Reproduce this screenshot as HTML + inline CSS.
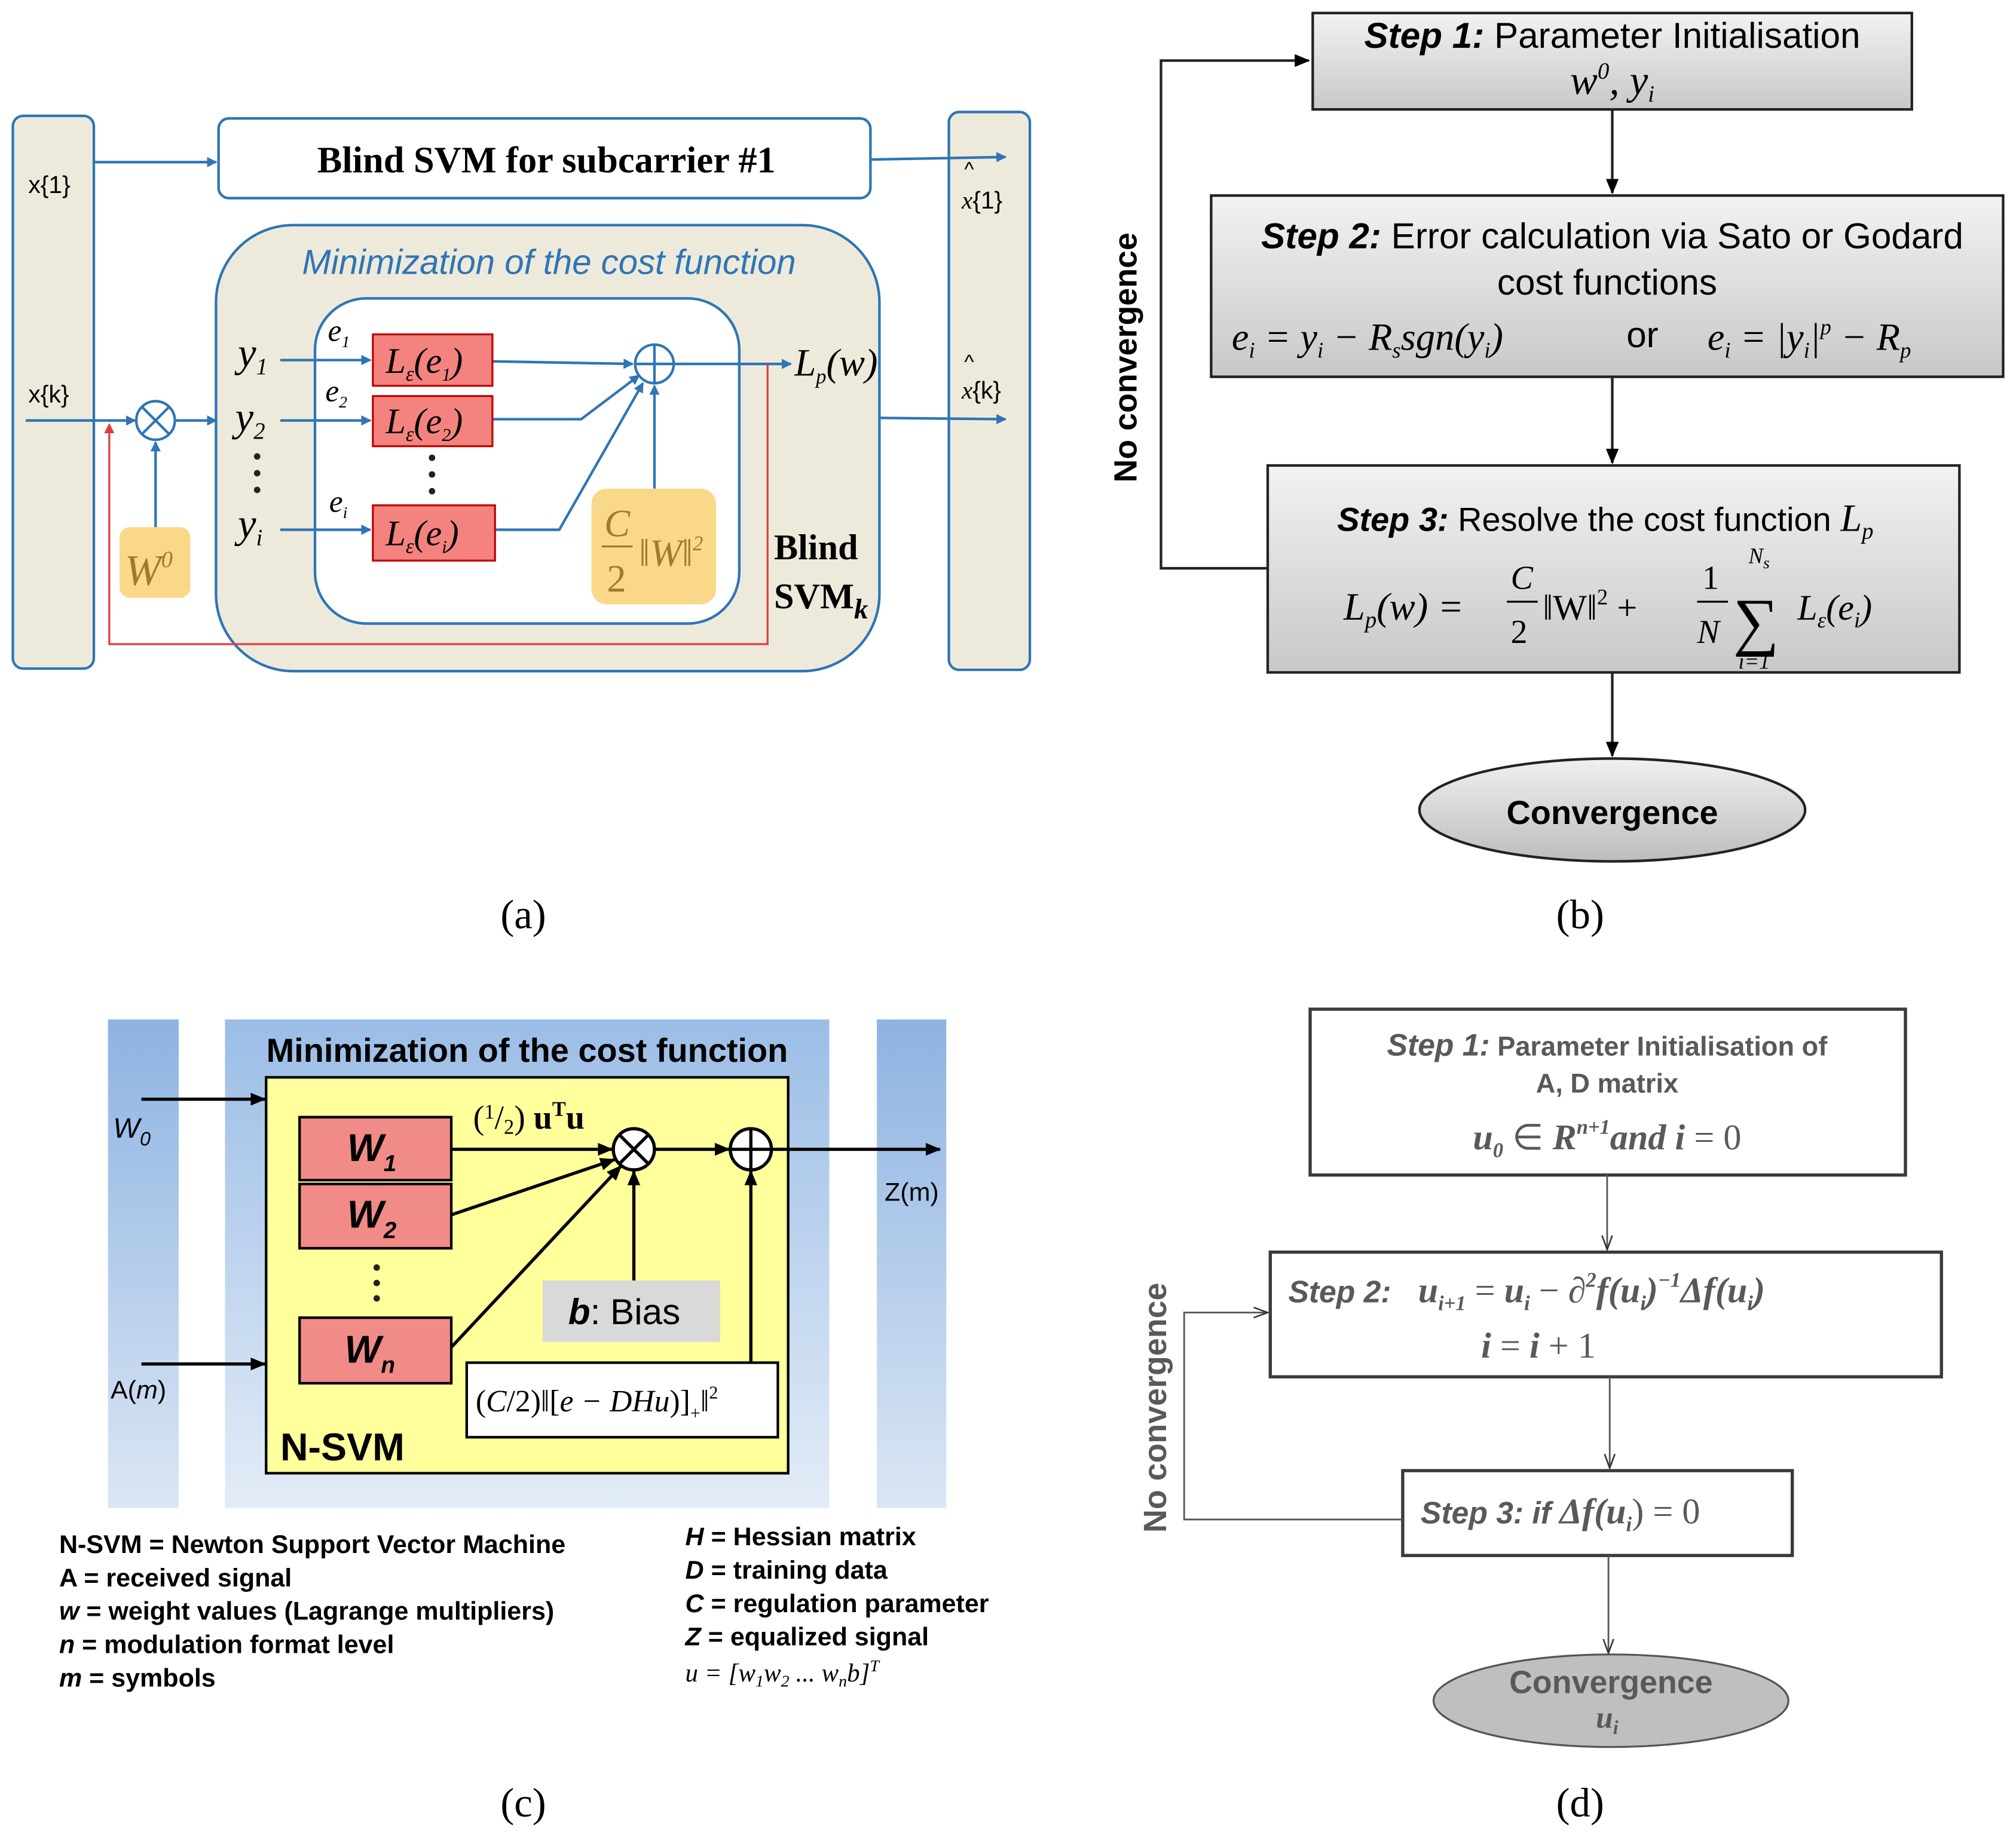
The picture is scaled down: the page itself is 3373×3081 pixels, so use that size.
<!DOCTYPE html>
<html><head><meta charset="utf-8"><style>
html,body{margin:0;padding:0;background:#fff;}
svg{display:block;}
text{font-family:"Liberation Sans",sans-serif;}
.serif,.serif text,.serif tspan{font-family:"Liberation Serif",serif;}
</style></head><body>
<svg width="3373" height="3081" viewBox="0 0 1568 1432" xmlns="http://www.w3.org/2000/svg">
<defs>
<marker id="ab" markerWidth="8" markerHeight="8" refX="7" refY="4" orient="auto" markerUnits="userSpaceOnUse"><path d="M0,0 L8,4 L0,8 z" fill="#2e75b6"/></marker>
<marker id="ar" markerWidth="8" markerHeight="8" refX="7" refY="4" orient="auto" markerUnits="userSpaceOnUse"><path d="M0,0 L8,4 L0,8 z" fill="#e03c3c"/></marker>
<marker id="ak" markerWidth="12" markerHeight="10" refX="11" refY="5" orient="auto" markerUnits="userSpaceOnUse"><path d="M0,0 L12,5 L0,10 z" fill="#000"/></marker>
<marker id="ag" markerWidth="12" markerHeight="10" refX="11" refY="5" orient="auto" markerUnits="userSpaceOnUse"><path d="M0,1 L11,5 L0,9" fill="none" stroke="#333" stroke-width="1.2"/></marker>
<linearGradient id="gb" x1="0" y1="0" x2="0" y2="1"><stop offset="0" stop-color="#f2f2f2"/><stop offset="1" stop-color="#c8c8c8"/></linearGradient>
<linearGradient id="ge" x1="0" y1="0" x2="0" y2="1"><stop offset="0" stop-color="#f0f0f0"/><stop offset="1" stop-color="#bdbdbd"/></linearGradient>
<linearGradient id="bl" x1="0" y1="0" x2="0" y2="1"><stop offset="0" stop-color="#8db3e2"/><stop offset="1" stop-color="#dbe6f4"/></linearGradient>
<linearGradient id="bl2" x1="0" y1="0" x2="0" y2="1"><stop offset="0" stop-color="#9bbde6"/><stop offset="1" stop-color="#e3ecf7"/></linearGradient>
</defs>

<!-- ===== (a) ===== -->
<g stroke="#2e75b6" stroke-width="2">
<rect x="10" y="90" width="63" height="430" rx="8" fill="#eeeadb"/>
<rect x="738" y="87" width="63" height="434" rx="8" fill="#eeeadb"/>
<rect x="170" y="92" width="507" height="62" rx="8" fill="#fff"/>
<rect x="168" y="175" width="516" height="347" rx="60" fill="#eeeadb"/>
<rect x="245" y="232" width="330" height="253" rx="40" fill="#fff"/>
</g>
<text x="425" y="134" class="serif" font-size="29" font-weight="bold" text-anchor="middle">Blind SVM for subcarrier #1</text>
<text x="427" y="213" font-size="27" font-style="italic" fill="#2e75b6" text-anchor="middle">Minimization of the cost function</text>
<text x="22" y="150" font-size="19">x{1}</text>
<text x="22" y="313" font-size="19">x{k}</text>
<text x="748" y="162" font-size="19"><tspan font-style="italic" class="serif">x</tspan>{1}</text>
<text x="750" y="137" font-size="16">^</text>
<text x="748" y="310" font-size="19"><tspan font-style="italic" class="serif">x</tspan>{k}</text>
<text x="750" y="287" font-size="16">^</text>
<g stroke="#2e75b6" stroke-width="2" fill="none">
<line x1="73" y1="126" x2="168" y2="126" marker-end="url(#ab)"/>
<line x1="677" y1="124" x2="782" y2="122" marker-end="url(#ab)"/>
<line x1="684" y1="325" x2="782" y2="326" marker-end="url(#ab)"/>
<line x1="20" y1="327" x2="105" y2="327" marker-end="url(#ab)"/>
<line x1="137" y1="327" x2="168" y2="327" marker-end="url(#ab)"/>
<line x1="121" y1="410" x2="121" y2="344" marker-end="url(#ab)"/>
<circle cx="121" cy="327" r="15" fill="#fff"/>
<line x1="110" y1="316" x2="132" y2="338"/><line x1="132" y1="316" x2="110" y2="338"/>
<line x1="218" y1="280" x2="288" y2="280" marker-end="url(#ab)"/>
<line x1="218" y1="327" x2="288" y2="327" marker-end="url(#ab)"/>
<line x1="218" y1="412" x2="288" y2="412" marker-end="url(#ab)"/>
<line x1="383" y1="281" x2="492" y2="283" marker-end="url(#ab)"/>
<polyline points="383,326 452,326 497,292" marker-end="url(#ab)"/>
<polyline points="385,412 435,412 500,298" marker-end="url(#ab)"/>
<line x1="509" y1="380" x2="509" y2="300" marker-end="url(#ab)"/>
<line x1="524" y1="283" x2="615" y2="283" marker-end="url(#ab)"/>
<circle cx="509" cy="283" r="15" fill="#fff"/>
<line x1="494" y1="283" x2="524" y2="283"/><line x1="509" y1="268" x2="509" y2="298"/>
</g>
<polyline points="597,283 597,501 85,501 85,330" fill="none" stroke="#e03c3c" stroke-width="1.5" marker-end="url(#ar)"/>
<g stroke="#c00000" stroke-width="1.5" fill="#f4837f">
<rect x="290" y="260" width="93" height="40"/>
<rect x="290" y="308" width="93" height="39"/>
<rect x="290" y="393" width="95" height="43"/>
</g>
<g class="serif" font-size="28" font-style="italic">
<text x="300" y="290">L<tspan font-size="16" dy="6">ε</tspan><tspan dy="-6">(e</tspan><tspan font-size="14" dy="6">1</tspan><tspan dy="-6">)</tspan></text>
<text x="300" y="337">L<tspan font-size="16" dy="6">ε</tspan><tspan dy="-6">(e</tspan><tspan font-size="14" dy="6">2</tspan><tspan dy="-6">)</tspan></text>
<text x="300" y="424">L<tspan font-size="16" dy="6">ε</tspan><tspan dy="-6">(e</tspan><tspan font-size="14" dy="6">i</tspan><tspan dy="-6">)</tspan></text>
<text x="185" y="285" font-size="32">y<tspan font-size="18" dy="6">1</tspan></text>
<text x="183" y="335" font-size="32">y<tspan font-size="18" dy="6">2</tspan></text>
<text x="185" y="418" font-size="32">y<tspan font-size="18" dy="6">i</tspan></text>
<text x="255" y="265" font-size="24">e<tspan font-size="13" dy="5">1</tspan></text>
<text x="253" y="312" font-size="24">e<tspan font-size="13" dy="5">2</tspan></text>
<text x="256" y="398" font-size="24">e<tspan font-size="13" dy="5">i</tspan></text>
<text x="618" y="292" font-size="30">L<tspan font-size="16" dy="6">p</tspan><tspan dy="-6">(w)</tspan></text>
</g>
<g fill="#222"><circle cx="200" cy="355" r="2.5"/><circle cx="200" cy="368" r="2.5"/><circle cx="200" cy="381" r="2.5"/>
<circle cx="336" cy="356" r="2.5"/><circle cx="336" cy="369" r="2.5"/><circle cx="336" cy="382" r="2.5"/></g>
<rect x="93" y="410" width="55" height="55" rx="8" fill="#f9d889"/>
<text x="97" y="455" class="serif" font-size="34" font-style="italic" fill="#a07a30">W<tspan font-size="18" dy="-14">0</tspan></text>
<rect x="460" y="380" width="97" height="90" rx="12" fill="#f9d889"/>
<text x="470" y="417" class="serif" font-size="30" font-style="italic" fill="#a07a30">C</text>
<line x1="468" y1="425" x2="492" y2="425" stroke="#a07a30" stroke-width="1.5"/>
<text x="472" y="460" class="serif" font-size="30" fill="#a07a30">2</text>
<text x="497" y="440" class="serif" font-size="30" font-style="italic" fill="#a07a30">‖W‖<tspan font-size="16" dy="-12">2</tspan></text>
<text x="602" y="435" class="serif" font-size="28" font-weight="bold">Blind</text>
<text x="602" y="473" class="serif" font-size="28" font-weight="bold">SVM<tspan font-style="italic" font-size="22" dy="8">k</tspan></text>
<text x="407" y="722" class="serif" font-size="32" text-anchor="middle">(a)</text>

<!-- ===== (b) ===== -->
<g stroke="#222" stroke-width="2">
<rect x="1021" y="10" width="466" height="75" fill="url(#gb)"/>
<rect x="942" y="152" width="616" height="141" fill="url(#gb)"/>
<rect x="986" y="362" width="538" height="161" fill="url(#gb)"/>
<ellipse cx="1254" cy="630" rx="150" ry="40" fill="url(#ge)"/>
</g>
<g stroke="#222" stroke-width="2" fill="none">
<line x1="1254" y1="85" x2="1254" y2="150" marker-end="url(#ak)"/>
<line x1="1254" y1="293" x2="1254" y2="360" marker-end="url(#ak)"/>
<line x1="1254" y1="523" x2="1254" y2="588" marker-end="url(#ak)"/>
<polyline points="986,442 903,442 903,47 1018,47" marker-end="url(#ak)"/>
</g>
<text x="1254" y="37" font-size="28" text-anchor="middle"><tspan font-weight="bold" font-style="italic">Step 1:</tspan> Parameter Initialisation</text>
<text x="1254" y="73" class="serif" font-size="32" font-style="italic" text-anchor="middle">w<tspan font-size="18" dy="-12">0</tspan><tspan dy="12">,  y</tspan><tspan font-size="18" dy="6">i</tspan></text>
<text x="1254" y="193" font-size="28" text-anchor="middle"><tspan font-weight="bold" font-style="italic">Step 2:</tspan> Error calculation via Sato or Godard</text>
<text x="1250" y="229" font-size="28" text-anchor="middle">cost functions</text>
<text x="958" y="272" class="serif" font-size="30" font-style="italic">e<tspan font-size="17" dy="6">i</tspan><tspan dy="-6"> = y</tspan><tspan font-size="17" dy="6">i</tspan><tspan dy="-6"> − R</tspan><tspan font-size="17" dy="6">s</tspan><tspan dy="-6">sgn(y</tspan><tspan font-size="17" dy="6">i</tspan><tspan dy="-6">)</tspan></text>
<text x="1265" y="270" font-size="28">or</text>
<text x="1328" y="272" class="serif" font-size="30" font-style="italic">e<tspan font-size="17" dy="6">i</tspan><tspan dy="-6"> = |y</tspan><tspan font-size="17" dy="6">i</tspan><tspan dy="-6">|</tspan><tspan font-size="17" dy="-12">p</tspan><tspan dy="12"> − R</tspan><tspan font-size="17" dy="6">p</tspan></text>
<text x="1040" y="413" font-size="26"><tspan font-weight="bold" font-style="italic">Step 3:</tspan> Resolve the cost function <tspan class="serif" font-style="italic" font-size="30">L</tspan><tspan class="serif" font-style="italic" font-size="18" dy="6">p</tspan></text>
<text x="1045" y="482" class="serif" font-size="30" font-style="italic">L<tspan font-size="18" dy="6">p</tspan><tspan dy="-6">(w) = </tspan></text>
<text x="1175" y="458" class="serif" font-size="26" font-style="italic">C</text>
<line x1="1172" y1="468" x2="1196" y2="468" stroke="#000" stroke-width="1.5"/>
<text x="1175" y="500" class="serif" font-size="26">2</text>
<text x="1200" y="482" class="serif" font-size="28">‖W‖<tspan font-size="17" dy="-12">2</tspan><tspan dy="12"> +</tspan></text>
<text x="1324" y="458" class="serif" font-size="26">1</text>
<line x1="1320" y1="468" x2="1344" y2="468" stroke="#000" stroke-width="1.5"/>
<text x="1320" y="500" class="serif" font-size="26" font-style="italic">N</text>
<text x="1348" y="500" class="serif" font-size="50">∑</text>
<text x="1360" y="438" class="serif" font-size="17" font-style="italic">N<tspan font-size="13" dy="4">s</tspan></text>
<text x="1352" y="520" class="serif" font-size="17" font-style="italic">i=1</text>
<text x="1398" y="482" class="serif" font-size="28" font-style="italic">L<tspan font-size="17" dy="6">ε</tspan><tspan dy="-6">(e</tspan><tspan font-size="17" dy="6">i</tspan><tspan dy="-6">)</tspan></text>
<text x="1254" y="641" font-size="26" font-weight="bold" text-anchor="middle">Convergence</text>
<text transform="translate(884,278) rotate(-90)" font-size="25" font-weight="bold" text-anchor="middle">No convergence</text>
<text x="1229" y="722" class="serif" font-size="32" text-anchor="middle">(b)</text>

<!-- ===== (c) ===== -->
<rect x="84" y="793" width="55" height="380" fill="url(#bl)"/>
<rect x="175" y="793" width="470" height="380" fill="url(#bl2)"/>
<rect x="682" y="793" width="54" height="380" fill="url(#bl)"/>
<text x="410" y="826" font-size="26" font-weight="bold" text-anchor="middle">Minimization of the cost function</text>
<rect x="207" y="838" width="406" height="308" fill="#ffff9c" stroke="#000" stroke-width="2"/>
<g stroke="#000" stroke-width="2" fill="#f08b88">
<rect x="233" y="869" width="118" height="49"/>
<rect x="233" y="921" width="118" height="50"/>
<rect x="233" y="1025" width="118" height="51"/>
</g>
<g font-size="30" font-weight="bold" font-style="italic">
<text x="270" y="903">W<tspan font-size="18" dy="8">1</tspan></text>
<text x="270" y="955">W<tspan font-size="18" dy="8">2</tspan></text>
<text x="268" y="1060">W<tspan font-size="18" dy="8">n</tspan></text>
</g>
<g fill="#222"><circle cx="293" cy="986" r="2.5"/><circle cx="293" cy="998" r="2.5"/><circle cx="293" cy="1010" r="2.5"/></g>
<rect x="422" y="996" width="138" height="48" fill="#d9d9d9"/>
<text x="442" y="1030" font-size="28"><tspan font-style="italic" font-weight="bold">b</tspan>: Bias</text>
<rect x="363" y="1060" width="242" height="58" fill="#fff" stroke="#000" stroke-width="2"/>
<text x="370" y="1098" class="serif" font-size="24">(<tspan font-style="italic">C</tspan>/2)‖[<tspan font-style="italic">e − DHu</tspan>)]<tspan font-size="14" dy="6">+</tspan><tspan dy="-6">‖</tspan><tspan font-size="14" dy="-10">2</tspan></text>
<text x="368" y="878" class="serif" font-size="26">(<tspan font-size="16" dy="-8">1</tspan><tspan dy="8">/</tspan><tspan font-size="16" dy="4">2</tspan><tspan dy="-4">) </tspan><tspan font-weight="bold">u<tspan font-size="16" dy="-10">T</tspan><tspan dy="10">u</tspan></tspan></text>
<g stroke="#000" stroke-width="2.5" fill="none">
<line x1="110" y1="855" x2="206" y2="855" marker-end="url(#ak)"/>
<line x1="110" y1="1061" x2="206" y2="1061" marker-end="url(#ak)"/>
<line x1="351" y1="894" x2="476" y2="894" marker-end="url(#ak)"/>
<line x1="351" y1="945" x2="478" y2="902" marker-end="url(#ak)"/>
<line x1="351" y1="1048" x2="483" y2="907" marker-end="url(#ak)"/>
<line x1="493" y1="996" x2="493" y2="911" marker-end="url(#ak)"/>
<line x1="509" y1="894" x2="567" y2="894" marker-end="url(#ak)"/>
<line x1="584" y1="1060" x2="584" y2="911" marker-end="url(#ak)"/>
<line x1="600" y1="894" x2="731" y2="894" marker-end="url(#ak)"/>
<circle cx="493" cy="894" r="16" fill="#fff"/>
<line x1="482" y1="883" x2="504" y2="905"/><line x1="504" y1="883" x2="482" y2="905"/>
<circle cx="584" cy="894" r="16" fill="#fff"/>
<line x1="568" y1="894" x2="600" y2="894"/><line x1="584" y1="878" x2="584" y2="910"/>
</g>
<text x="88" y="885" font-size="22" font-style="italic">W<tspan font-size="15" dy="6">0</tspan></text>
<text x="86" y="1088" font-size="20">A(<tspan font-style="italic">m</tspan>)</text>
<text x="688" y="934" font-size="20">Z(m)</text>
<text x="218" y="1136" font-size="30" font-weight="bold">N-SVM</text>
<g font-size="20" font-weight="bold">
<text x="46" y="1208">N-SVM = Newton Support Vector Machine</text>
<text x="46" y="1234">A = received signal</text>
<text x="46" y="1260"><tspan font-style="italic">w</tspan> = weight values (Lagrange multipliers)</text>
<text x="46" y="1286"><tspan font-style="italic">n</tspan> = modulation format level</text>
<text x="46" y="1312"><tspan font-style="italic">m</tspan> = symbols</text>
<text x="533" y="1202"><tspan font-style="italic">H</tspan> = Hessian matrix</text>
<text x="533" y="1228"><tspan font-style="italic">D</tspan> = training data</text>
<text x="533" y="1254"><tspan font-style="italic">C</tspan> = regulation parameter</text>
<text x="533" y="1280"><tspan font-style="italic">Z</tspan> = equalized signal</text>
</g>
<text x="533" y="1308" class="serif" font-size="20" font-style="italic">u  =  [w<tspan font-size="13" dy="4">1</tspan><tspan dy="-4">w</tspan><tspan font-size="13" dy="4">2</tspan><tspan dy="-4"> ... w</tspan><tspan font-size="13" dy="4">n</tspan><tspan dy="-4">b]</tspan><tspan font-size="13" dy="-8">T</tspan></text>
<text x="407" y="1413" class="serif" font-size="32" text-anchor="middle">(c)</text>

<!-- ===== (d) ===== -->
<g stroke="#3a3a3a" stroke-width="2.5" fill="#fff">
<rect x="1019" y="785" width="463" height="129"/>
<rect x="988" y="974" width="522" height="97"/>
<rect x="1091" y="1144" width="303" height="66"/>
</g>
<ellipse cx="1253" cy="1323" rx="138" ry="36" fill="#bfbfbf" stroke="#555" stroke-width="1.5"/>
<g stroke="#555" stroke-width="1.3" fill="none">
<line x1="1250" y1="914" x2="1250" y2="972" marker-end="url(#ag)"/>
<line x1="1252" y1="1071" x2="1252" y2="1142" marker-end="url(#ag)"/>
<line x1="1251" y1="1210" x2="1251" y2="1286" marker-end="url(#ag)"/>
<polyline points="1091,1182 921,1182 921,1021 986,1021" marker-end="url(#ag)"/>
</g>
<g fill="#595959">
<text x="1250" y="821" font-size="24" text-anchor="middle" font-weight="bold"><tspan font-style="italic">Step 1:</tspan><tspan font-size="21"> Parameter Initialisation of</tspan></text>
<text x="1250" y="850" font-size="21" font-weight="bold" text-anchor="middle">A, D matrix</text>
<text x="1250" y="894" class="serif" font-size="28" font-weight="bold" font-style="italic" text-anchor="middle">u<tspan font-size="16" dy="6">0</tspan><tspan dy="-6" font-style="normal" font-weight="normal"> ∈ </tspan>R<tspan font-size="16" dy="-12">n+1</tspan><tspan dy="12">and i </tspan><tspan font-style="normal" font-weight="normal">= 0</tspan></text>
<text x="1002" y="1013" font-size="24" font-weight="bold" font-style="italic">Step 2:</text>
<text x="1103" y="1013" class="serif" font-size="28" font-weight="bold" font-style="italic">u<tspan font-size="16" dy="6">i+1</tspan><tspan dy="-6" font-weight="normal" font-style="normal"> = </tspan>u<tspan font-size="16" dy="6">i</tspan><tspan dy="-6" font-weight="normal" font-style="normal"> − ∂</tspan><tspan font-size="16" dy="-12">2</tspan><tspan dy="12">f(u</tspan><tspan font-size="16" dy="6">i</tspan><tspan dy="-6">)</tspan><tspan font-size="16" dy="-12">−1</tspan><tspan dy="12">Δf(u</tspan><tspan font-size="16" dy="6">i</tspan><tspan dy="-6">)</tspan></text>
<text x="1152" y="1056" class="serif" font-size="28" font-weight="bold" font-style="italic">i <tspan font-weight="normal" font-style="normal">= </tspan>i<tspan font-weight="normal" font-style="normal"> + 1</tspan></text>
<text x="1105" y="1185" font-size="24" font-weight="bold" font-style="italic">Step 3: if <tspan class="serif" font-size="28">Δf(u<tspan font-size="16" dy="6">i</tspan><tspan dy="-6" font-weight="normal" font-style="normal">) = 0</tspan></tspan></text>
<text x="1253" y="1317" font-size="25" font-weight="bold" text-anchor="middle">Convergence</text>
<text x="1250" y="1344" class="serif" font-size="24" font-weight="bold" font-style="italic" text-anchor="middle">u<tspan font-size="15" dy="5">i</tspan></text>
<text transform="translate(907,1095) rotate(-90)" font-size="25" font-weight="bold" text-anchor="middle">No convergence</text>
</g>
<text x="1229" y="1413" class="serif" font-size="32" text-anchor="middle">(d)</text>
</svg>
</body></html>
